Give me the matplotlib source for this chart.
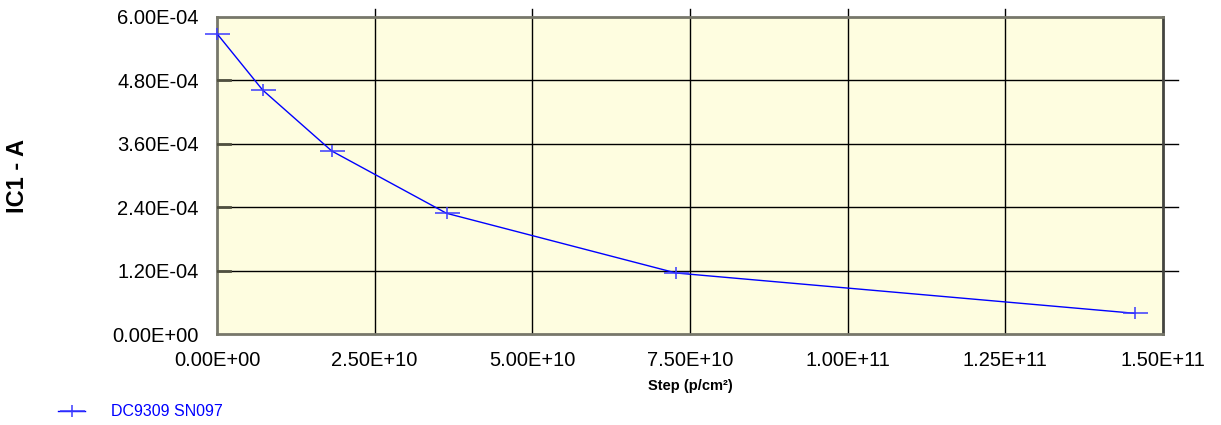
import matplotlib
matplotlib.use("Agg")
import matplotlib.pyplot as plt
from matplotlib.path import Path
from matplotlib.ticker import FuncFormatter

# fluence steps (p/cm2) and measured IC1 current (A)
step = [0.0, 7.24e9, 1.82e10, 3.64e10, 7.28e10, 1.455e11]
ic1 = [5.68e-4, 4.615e-4, 3.463e-4, 2.286e-4, 1.158e-4, 3.97e-5]
series_name = "DC9309 SN097"

x_ticks = [0.0, 2.5e10, 5.0e10, 7.5e10, 1.0e11, 1.25e11, 1.5e11]
y_ticks = [0.0, 1.2e-4, 2.4e-4, 3.6e-4, 4.8e-4, 6.0e-4]

plt.rcParams['font.family'] = ['Liberation Sans', 'DejaVu Sans']


def sci_fmt(v, pos=None):
    return "%.2E" % v


# wide, flat plus marker like the original
plus = Path([(-1, 0), (1, 0), (0, -0.5), (0, 0.5)],
            [Path.MOVETO, Path.LINETO, Path.MOVETO, Path.LINETO])

fig = plt.figure(figsize=(12.21, 4.25), dpi=100)
ax = fig.add_axes([0.1777, 0.2134, 0.9525 - 0.1777, 0.9607 - 0.2134])
ax.set_facecolor('#fefde0')

line, = ax.plot(step, ic1, color='#0000ff', lw=1.0, marker=plus,
                markersize=18, markeredgewidth=1.1, markeredgecolor='#3a3aff',
                label=series_name, zorder=5, clip_on=False)

ax.set_xlim(0, 1.5e11)
ax.set_ylim(0, 6.0e-4)
ax.set_xticks(x_ticks)
ax.set_yticks(y_ticks)
ax.xaxis.set_major_formatter(FuncFormatter(sci_fmt))
ax.yaxis.set_major_formatter(FuncFormatter(sci_fmt))
ax.tick_params(axis='both', labelsize=14.5, length=0)
ax.tick_params(axis='x', pad=12)
ax.tick_params(axis='y', pad=13)

# grid lines, a bit past the frame like the source chart
ymax = ax.get_ylim()[1]
xmax = ax.get_xlim()[1]
for xv in x_ticks[1:-1]:
    ax.plot([xv, xv], [0, ymax * 1.025], color='black', lw=1.0,
            clip_on=False, zorder=2)
for yv in y_ticks[1:-1]:
    ax.plot([0, xmax * 1.016], [yv, yv], color='black', lw=1.0,
            clip_on=False, zorder=2)
    ax.plot([0, xmax * 0.014], [yv, yv], color='#505040', lw=2.0, zorder=3)

for side in ['left', 'bottom', 'top']:
    ax.spines[side].set_color('#77776a')
    ax.spines[side].set_linewidth(2.0)
ax.spines['right'].set_color('#444440')
ax.spines['right'].set_linewidth(2.0)

ax.set_ylabel("IC1 - A", fontsize=17, fontweight='bold', labelpad=0)
ax.yaxis.set_label_coords(-0.199, 0.5)
ax.set_xlabel("Step (p/cm²)", fontsize=10.5, fontweight='bold')
ax.xaxis.set_label_coords(0.5, -0.14)

leg = fig.legend(handles=[line], loc='center left',
                 bbox_to_anchor=(0.0475, 0.0306), frameon=False,
                 fontsize=11.5, handlelength=1.7, handletextpad=1.6,
                 borderpad=0, borderaxespad=0)
for t in leg.get_texts():
    t.set_color('#0000ff')

fig.savefig("out.png", dpi=100)
